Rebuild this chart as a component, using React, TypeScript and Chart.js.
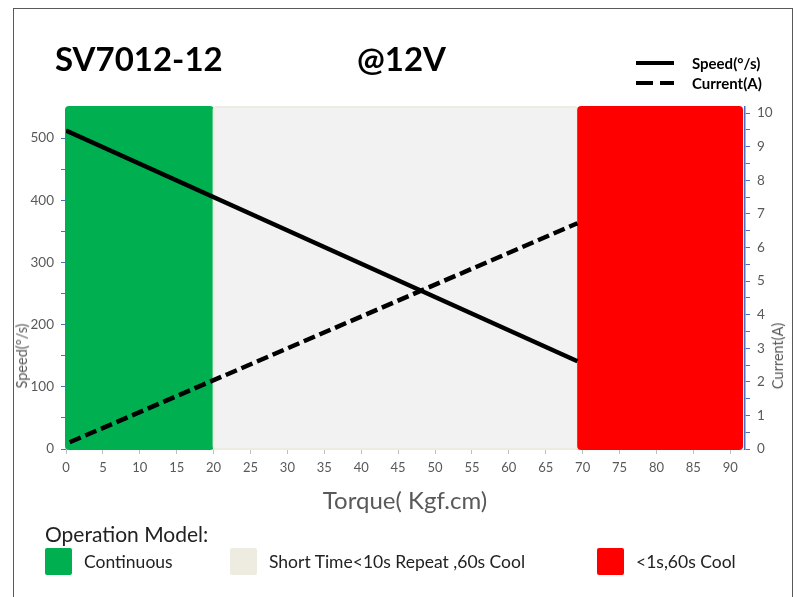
import React, { useEffect, useRef } from "react";
import { Chart, registerables } from "chart.js";

Chart.register(...registerables);

// ---- data ----
const torqueSpeed = [0, 69.3];
const speedValues = [512, 141];
const torqueCurrent = [0.5, 69.3];
const currentValues = [0.2, 6.72];

const bandStarts = [0, 20, 69.4];
const bandEnds = [19.9, 69.3, 91.6];
const bandColors = ["#00B050", "#F2F2F2", "#FF0000"];
const bandBorders = ["#00B050", "#EEECE1", "#FF0000"];

const xTicks = [0, 5, 10, 15, 20, 25, 30, 35, 40, 45, 50, 55, 60, 65, 70, 75, 80, 85, 90];
const leftTicks = [0, 50, 100, 150, 200, 250, 300, 350, 400, 450, 500];
const rightTicks = [0, 0.5, 1, 1.5, 2, 2.5, 3, 3.5, 4, 4.5, 5, 5.5, 6, 6.5, 7, 7.5, 8, 8.5, 9, 9.5, 10];

const legendModes = ["Continuous", "Short Time<10s Repeat ,60s Cool", "<1s,60s Cool"];
const legendColors = ["#00B050", "#EEECE1", "#FF0000"];

const FONT = "Lato, 'Open Sans', sans-serif";

const bandsPlugin = {
  id: "bands",
  beforeDatasetsDraw(chart: any) {
    const { ctx, scales } = chart;
    const x = scales.x;
    const y = scales.y;
    const top = y.getPixelForValue(550);
    const bottom = y.getPixelForValue(0);
    ctx.save();
    for (let i = 0; i < bandStarts.length; i++) {
      const l = x.getPixelForValue(bandStarts[i]);
      const r = x.getPixelForValue(bandEnds[i]);
      ctx.beginPath();
      if (ctx.roundRect) ctx.roundRect(l, top, r - l, bottom - top, 3);
      else ctx.rect(l, top, r - l, bottom - top);
      ctx.fillStyle = bandColors[i];
      ctx.fill();
      ctx.lineWidth = 2;
      ctx.strokeStyle = bandBorders[i];
      ctx.stroke();
    }
    ctx.restore();
  },
};

export default function App() {
  const ref = useRef<HTMLCanvasElement>(null);
  useEffect(() => {
    if (!ref.current) return;
    const chart = new Chart(ref.current, {
      type: "line",
      data: {
        datasets: [
          {
            label: "Speed",
            data: torqueSpeed.map((t, i) => ({ x: t, y: speedValues[i] })),
            borderColor: "#000000",
            borderWidth: 4.5,
            pointRadius: 0,
            yAxisID: "y",
          },
          {
            label: "Current",
            data: torqueCurrent.map((t, i) => ({ x: t, y: currentValues[i] })),
            borderColor: "#000000",
            borderWidth: 4.5,
            borderDash: [12, 5],
            pointRadius: 0,
            yAxisID: "y1",
          },
        ],
      },
      options: {
        animation: false,
        responsive: false,
        layout: { padding: { top: 107, left: 0, right: 0, bottom: 0 } },
        plugins: { legend: { display: false }, tooltip: { enabled: false }, title: { display: false } },
        scales: {
          x: {
            type: "linear",
            position: "bottom",
            min: 0,
            max: 92,
            afterFit: (s: any) => { s.height = 148; },
            afterBuildTicks: (s: any) => { s.ticks = xTicks.map((v) => ({ value: v })); },
            grid: { drawOnChartArea: false, drawTicks: true, tickLength: 5, color: "#BFBFBF" },
            border: { display: true, color: "#D9D9D9" },
            ticks: { autoSkip: false, maxRotation: 0, padding: 6, color: "#595959", font: { family: FONT, size: 13 } },
          },
          y: {
            type: "linear",
            position: "left",
            min: 0,
            max: 550,
            afterFit: (s: any) => { s.width = 66; },
            afterBuildTicks: (s: any) => { s.ticks = leftTicks.map((v) => ({ value: v })); },
            grid: { drawOnChartArea: false, drawTicks: true, tickLength: 5, color: "#4472C4" },
            border: { display: false },
            ticks: {
              autoSkip: false,
              padding: 7,
              color: "#595959",
              font: { family: FONT, size: 13.5 },
              callback: (v: any) => (Number(v) % 100 === 0 ? String(v) : ""),
            },
          },
          y1: {
            type: "linear",
            position: "right",
            min: 0,
            max: 10.18,
            afterFit: (s: any) => { s.width = 53; },
            afterBuildTicks: (s: any) => { s.ticks = rightTicks.map((v) => ({ value: v })); },
            grid: { drawOnChartArea: false, drawTicks: true, tickLength: 5, color: "#4472C4" },
            border: { display: true, color: "#4472C4", width: 1.5 },
            ticks: {
              autoSkip: false,
              padding: 7,
              color: "#595959",
              font: { family: FONT, size: 13.5 },
              callback: (v: any) => (Number.isInteger(Number(v)) ? String(v) : ""),
            },
          },
        },
      },
      plugins: [bandsPlugin],
    } as any);
    return () => chart.destroy();
  }, []);

  const abs = (o: React.CSSProperties): React.CSSProperties => ({ position: "absolute", whiteSpace: "nowrap", ...o });

  return (
    <div style={{ position: "fixed", left: 0, top: 0, width: 798, height: 597, background: "#fff", overflow: "hidden", fontFamily: FONT }}>
      <div style={abs({ left: 13, top: 8, width: 778, height: 640, border: "1px solid #595959" })} />
      <canvas ref={ref} width={798} height={597} style={{ position: "absolute", left: 0, top: 0, width: 798, height: 597 }} />
      <div style={abs({ left: 55, top: 38, fontSize: 33, fontWeight: 700, lineHeight: "40px", color: "#000" })}>SV7012-12</div>
      <div style={abs({ left: 357, top: 38, fontSize: 33, fontWeight: 700, lineHeight: "40px", color: "#000" })}>@12V</div>
      <div style={abs({ left: 636, top: 61, width: 38, height: 4, background: "#000" })} />
      <div style={abs({ left: 636, top: 81, width: 17, height: 4, background: "#000" })} />
      <div style={abs({ left: 660, top: 81, width: 14, height: 4, background: "#000" })} />
      <div style={abs({ left: 692, top: 53, fontSize: 15, fontWeight: 700, lineHeight: "20px", color: "#000" })}>Speed(°/s)</div>
      <div style={abs({ left: 692, top: 73, fontSize: 15, fontWeight: 700, lineHeight: "20px", color: "#000" })}>Current(A)</div>
      <div style={abs({ left: 22, top: 356, fontSize: 14.5, lineHeight: "16px", color: "#595959", transform: "translate(-50%,-50%) rotate(-90deg)" })}>Speed(°/s)</div>
      <div style={abs({ left: 778, top: 356, fontSize: 14.5, lineHeight: "16px", color: "#595959", transform: "translate(-50%,-50%) rotate(-90deg)" })}>Current(A)</div>
      <div style={abs({ left: 405, top: 500, fontSize: 24, lineHeight: "28px", color: "#595959", transform: "translate(-50%,-50%)" })}>Torque( Kgf.cm)</div>
      <div style={abs({ left: 45, top: 522, fontSize: 21, lineHeight: "24px", color: "#222" })}>Operation Model:</div>
      {legendModes.map((m, i) => {
        const lefts = [45, 230, 597];
        return (
          <React.Fragment key={m}>
            <div style={abs({ left: lefts[i], top: 548, width: 27, height: 27, background: legendColors[i], borderRadius: 2 })} />
            <div style={abs({ left: lefts[i] + 39, top: 552, fontSize: 17.5, lineHeight: "20px", color: "#222" })}>{m}</div>
          </React.Fragment>
        );
      })}
    </div>
  );
}
